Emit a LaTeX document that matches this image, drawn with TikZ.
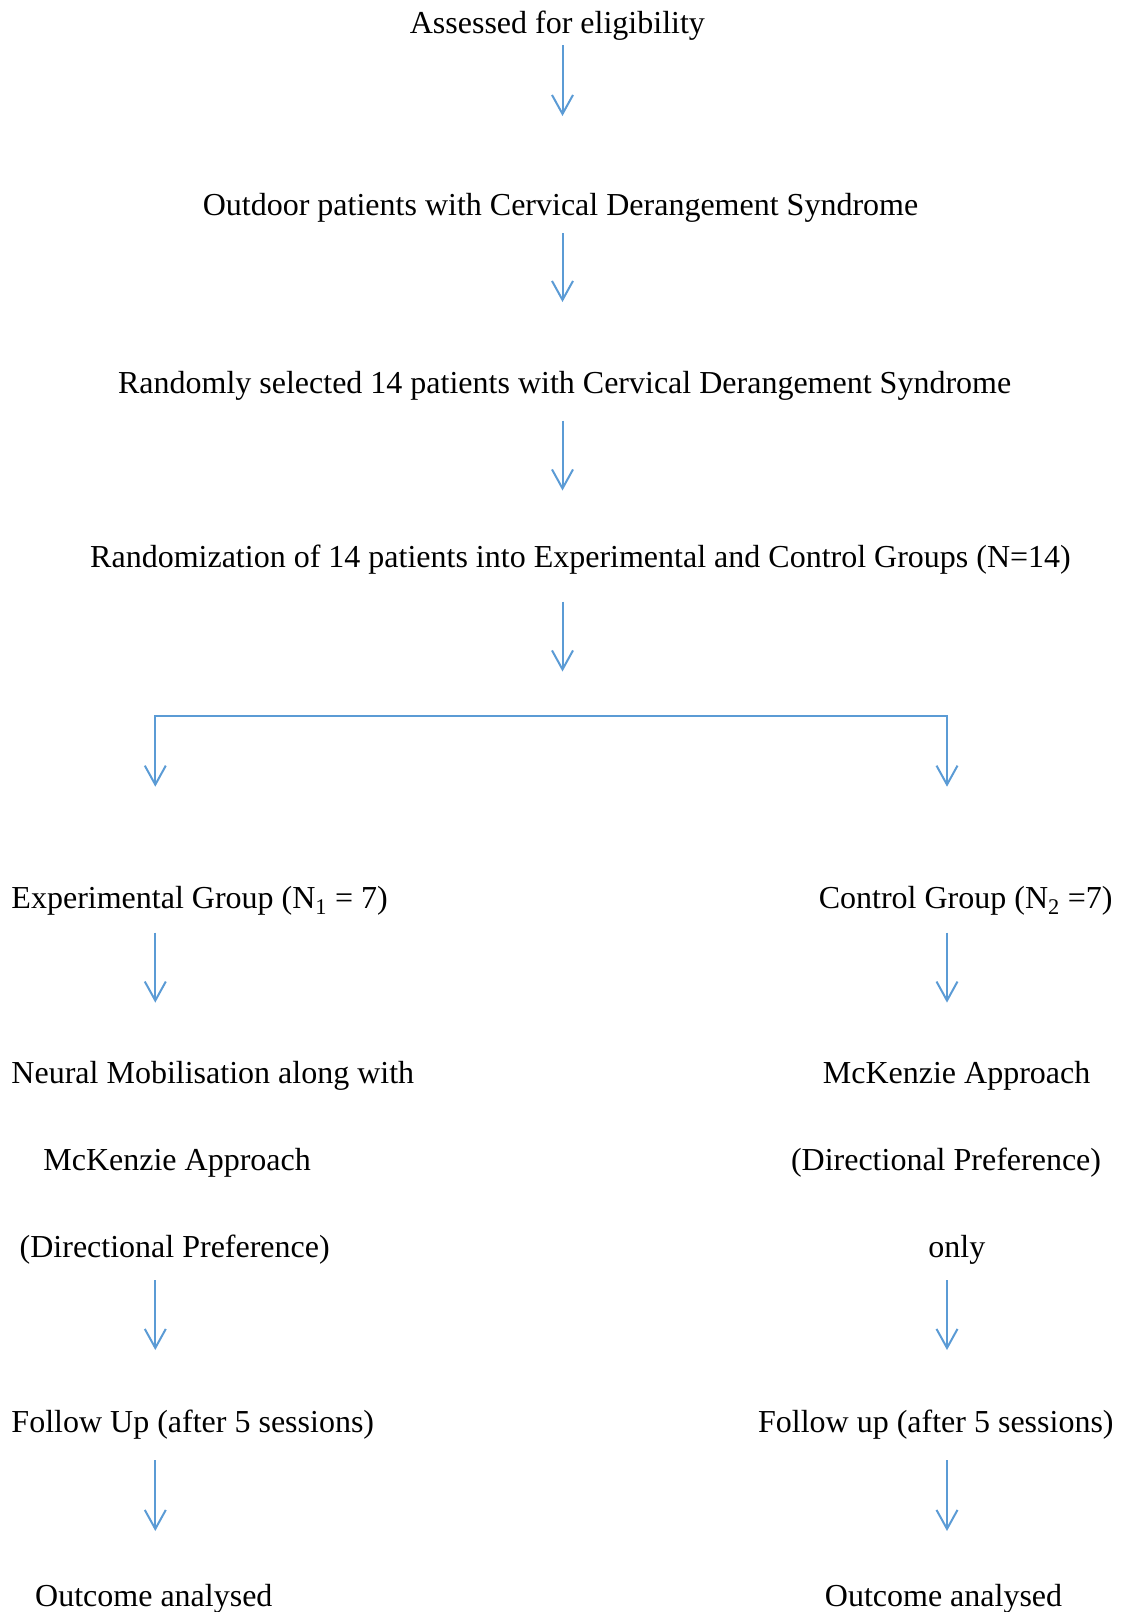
\documentclass[tikz,border=0pt]{standalone}
\usepackage{fontspec}
\setmainfont{Liberation Serif}
\usepackage{xcolor}
\usetikzlibrary{arrows.meta}
\definecolor{bleu}{RGB}{91,155,213}

\begin{document}
\begin{tikzpicture}[x=1pt,y=-1pt]
% Styles
\tikzstyle{fleche}=[-{Straight Barb[length=19pt,width=21pt]},line width=2pt,draw=bleu]
\tikzstyle{fourche}=[{Straight Barb[length=19pt,width=21pt]}-{Straight Barb[length=19pt,width=21pt]},line width=2pt,draw=bleu]
\tikzstyle{texte}=[inner sep=0pt,anchor=base,font=\fontsize{32}{38}\selectfont]
\tikzstyle{texteg}=[texte,anchor=base west]
% Dimensions
\def\ColC{562.5}
\def\ColG{155.3}
\def\ColD{947}
\def\NiveauA{33}
\def\NiveauB{215}
\def\NiveauC{393}
\def\NiveauD{567.5}
\def\NiveauE{908}
\def\NiveauF{1083}
\def\NiveauG{1170.5}
\def\NiveauH{1257}
\def\NiveauI{1432.5}
\def\NiveauJ{1606}
\useasboundingbox (0,0) rectangle (1125,1612);
\coordinate (axeC) at (\ColC,0);
\coordinate (axeG) at (\ColG,0);
\coordinate (axeD) at (\ColD,0);
\coordinate (barre) at (\ColC,715.7);
% Noeuds
\node[texte] (eligible) at (557.4,\NiveauA) {Assessed for eligibility};
\node[texte] (externes) at (560.5,\NiveauB) {Outdoor patients with Cervical Derangement Syndrome};
\node[texte] (selection) at (564.6,\NiveauC) {Randomly selected 14 patients with Cervical Derangement Syndrome};
\node[texte] (randomisation) at (580.5,\NiveauD) {Randomization of 14 patients into Experimental and Control Groups (N=14)};
\node[texteg] (groupeExp) at (11.3,\NiveauE) {Experimental Group (N\textsubscript{1} = 7)};
\node[texteg] (groupeCtrl) at (818.6,\NiveauE) {Control Group (N\textsubscript{2} =7)};
\node[texteg] (neuraleG) at (11.3,\NiveauF) {Neural Mobilisation along with};
\node[texteg] (mckenzieG) at (43.2,\NiveauG) {McKenzie Approach};
\node[texteg] (preferenceG) at (19.5,\NiveauH) {(Directional Preference)};
\node[texteg] (suiviG) at (11.3,\NiveauI) {Follow Up (after 5 sessions)};
\node[texteg] (resultatG) at (35,\NiveauJ) {Outcome analysed};
\node[texteg] (mckenzieD) at (822.7,\NiveauF) {McKenzie Approach};
\node[texteg] (preferenceD) at (790.8,\NiveauG) {(Directional Preference)};
\node[texte] (seulement) at (956.8,\NiveauH) {only};
\node[texteg] (suiviD) at (757.9,\NiveauI) {Follow up (after 5 sessions)};
\node[texteg] (resultatD) at (824.7,\NiveauJ) {Outcome analysed};
% Arcs
\draw[fleche] ([yshift=-12pt]eligible.base -| axeC) -- ([yshift=99pt]externes.base -| axeC);
\draw[fleche] ([yshift=-18pt]externes.base -| axeC) -- ([yshift=91pt]selection.base -| axeC);
\draw[fleche] ([yshift=-27.6pt]selection.base -| axeC) -- ([yshift=77pt]randomisation.base -| axeC);
\draw[fleche] ([yshift=-34pt]randomisation.base -| axeC) -- ([yshift=44.2pt]barre);
\draw[fourche] ([yshift=121.3pt]groupeExp.base -| axeG) -- (axeG |- barre) -- (axeD |- barre) -- ([yshift=121.3pt]groupeCtrl.base -| axeD);
\draw[fleche] ([yshift=-24.7pt]groupeExp.base -| axeG) -- ([yshift=80.4pt]neuraleG.base -| axeG);
\draw[fleche] ([yshift=-24.7pt]groupeCtrl.base -| axeD) -- ([yshift=80.4pt]mckenzieD.base -| axeD);
\draw[fleche] ([yshift=-23pt]preferenceG.base -| axeG) -- ([yshift=82.5pt]suiviG.base -| axeG);
\draw[fleche] ([yshift=-23pt]seulement.base -| axeD) -- ([yshift=82.5pt]suiviD.base -| axeD);
\draw[fleche] ([yshift=-27.5pt]suiviG.base -| axeG) -- ([yshift=75pt]resultatG.base -| axeG);
\draw[fleche] ([yshift=-27.5pt]suiviD.base -| axeD) -- ([yshift=75pt]resultatD.base -| axeD);
\end{tikzpicture}
\end{document}
